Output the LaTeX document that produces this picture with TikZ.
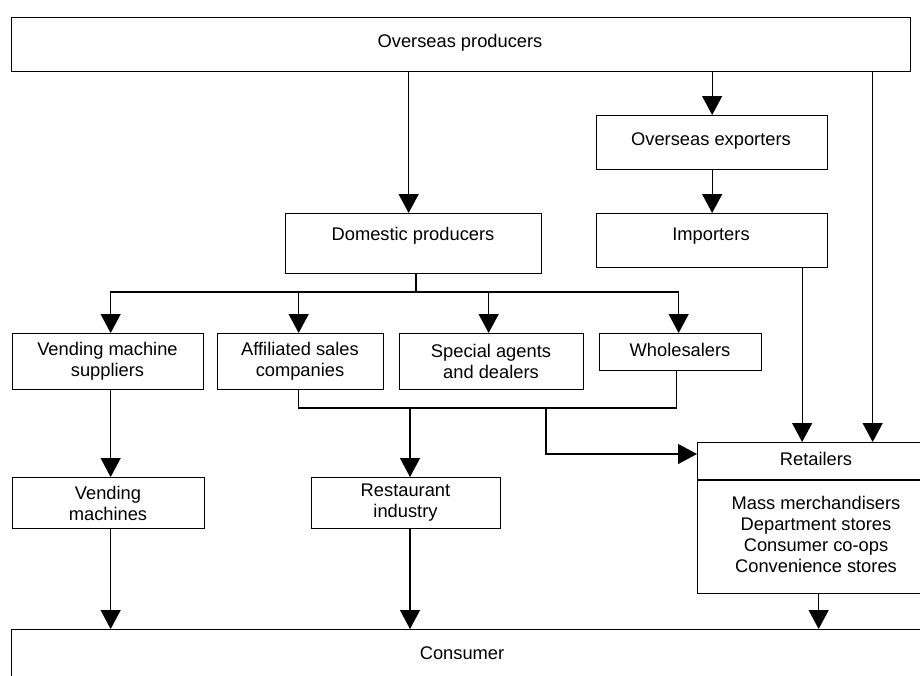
\documentclass[tikz,border=0pt]{standalone}
\usepackage{fontspec}
\setmainfont{Liberation Sans}
\usetikzlibrary{arrows.meta,calc}
\begin{document}
\begin{tikzpicture}[x=1pt,y=-1pt,
  box/.style={draw, line width=1.3pt, rectangle, inner sep=0pt, anchor=north west},
  lbl/.style={inner sep=0pt, align=center, font=\fontsize{18.3}{21}\selectfont},
  conn/.style={line width=1.3pt},
  arr/.style={line width=1.3pt, -{Triangle[width=20pt,length=19pt]}}]
\useasboundingbox (0,0) rectangle (920,675);
\clip (0,0) rectangle (920,675);
\fill[white] (0,0) rectangle (920,675);
% boxes
\node[box, minimum width=899pt, minimum height=54pt] (op) at (11,17) {};
\node[lbl] (op-t) at (460,43) {Overseas producers};
\node[box, minimum width=231pt, minimum height=54pt] (ex) at (596,115) {};
\node[lbl] (ex-t) at (711,141) {Overseas exporters};
\node[box, minimum width=231pt, minimum height=54pt] (im) at (596,213) {};
\node[lbl] (im-t) at (711,236) {Importers};
\node[box, minimum width=256pt, minimum height=60pt] (dp) at (285,213) {};
\node[lbl] (dp-t) at (413,236) {Domestic producers};
\node[box, minimum width=191pt, minimum height=56pt] (vms) at (12,333) {};
\node[lbl] (vms-t) at (107.5,361) {Vending machine\\suppliers};
\node[box, minimum width=166pt, minimum height=56pt] (asc) at (217,333) {};
\node[lbl] (asc-t) at (300,361) {Affiliated sales\\companies};
\node[box, minimum width=184pt, minimum height=56pt] (sad) at (399,333) {};
\node[lbl] (sad-t) at (491,361) {Special agents\\and dealers};
\node[box, minimum width=162pt, minimum height=37pt] (wh) at (599,333) {};
\node[lbl] (wh-t) at (680,350) {Wholesalers};
\node[box, minimum width=192pt, minimum height=51pt] (vm) at (12,477) {};
\node[lbl] (vm-t) at (108,503) {Vending\\machines};
\node[box, minimum width=189pt, minimum height=51pt] (rest) at (311,477) {};
\node[lbl] (rest-t) at (405.5,503) {Restaurant\\industry};
\node[box, minimum width=240pt, minimum height=151pt] (ret) at (697,442) {};
\draw[conn] ($(ret.north west)+(0,38)$) -- ($(ret.north east)+(0,38)$);
\node[lbl] (ret-t) at (816,459) {Retailers};
\node[lbl] (ret-l) at (816,534) {Mass merchandisers\\Department stores\\Consumer co-ops\\Convenience stores};
\node[box, minimum width=940pt, minimum height=80pt] (con) at (11,629) {};
\node[lbl] (con-t) at (462,653) {Consumer};
% junctions
\coordinate (b1) at (416,292);
\coordinate (b2) at (410,408);
\coordinate (b3) at (546,408);
% connectors
\draw[arr] ([xshift=-5pt]dp.north |- op.south) -- ([xshift=-5pt]dp.north);
\draw[arr] (ex.north |- op.south) -- (ex.north);
\draw[arr] (ex.south) -- (im.north);
\draw[arr] ([xshift=90pt]im.south) -- ([xshift=90pt]im.south |- ret.north);
\draw[arr] ([xshift=55pt]ret.north |- op.south) -- ([xshift=55pt]ret.north);
\draw[conn] (b1 |- dp.south) -- (b1);
\draw[arr] (b1) -| ([xshift=2.5pt]vms.north);
\draw[arr] (b1) -| ([xshift=-2pt]asc.north);
\draw[arr] (b1) -| ([xshift=-3pt]sad.north);
\draw[arr] (b1) -| ([xshift=-2pt]wh.north);
\draw[arr] ([xshift=2.5pt]vms.south) -- ([xshift=2pt]vm.north);
\draw[conn] ([xshift=-2pt]asc.south) |- (b2) -- (b3) -| ([xshift=-4pt]wh.south);
\draw[arr] (b2) -- (b2 |- rest.north);
\draw[arr] (b3) |- ([yshift=-12pt]ret.north west);
\draw[arr] ([xshift=2pt]vm.south) -- ([xshift=2pt]vm.south |- con.north);
\draw[arr] (b2 |- rest.south) -- (b2 |- con.north);
\draw[arr] ([xshift=1pt]ret.south) -- ([xshift=1pt]ret.south |- con.north);
\end{tikzpicture}
\end{document}
